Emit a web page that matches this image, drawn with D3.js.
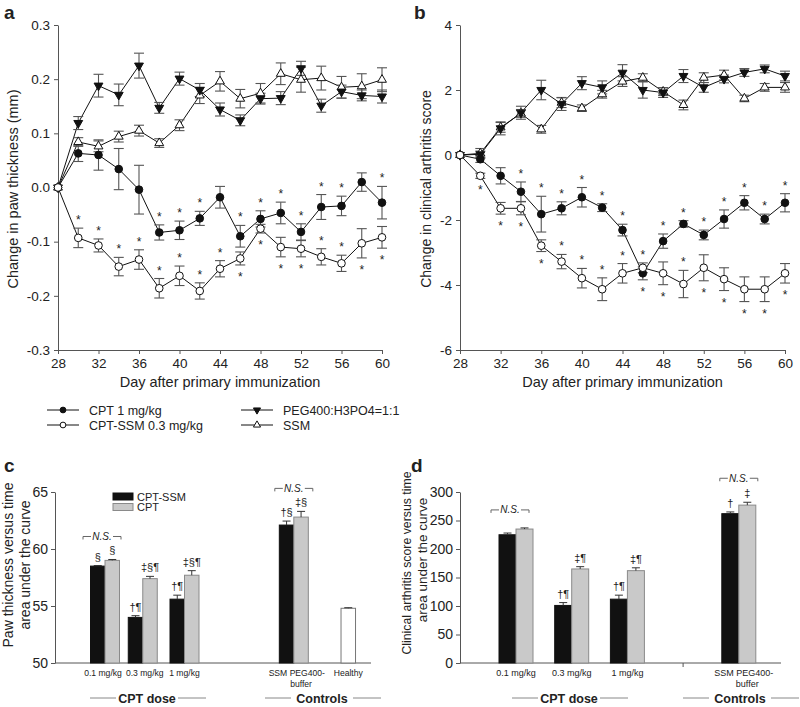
<!DOCTYPE html>
<html><head><meta charset="utf-8">
<script src="https://cdn.jsdelivr.net/npm/d3@7"></script>
<style>
body{margin:0;background:#fff}
text{font-family:"Liberation Sans",Arial,Helvetica,sans-serif;fill:#222}
</style>
</head><body>
<svg id="chart" width="800" height="707"></svg>
<script>
// ---------------- DATA ----------------
const days = [28,30,32,34,36,38,40,42,44,46,48,50,52,54,56,58,60];
const dayTicks = [28,32,36,40,44,48,52,56,60];

// Panel a: change in paw thickness (mm)
const aCPT      = [0,0.063,0.060,0.034,-0.004,-0.083,-0.079,-0.057,-0.018,-0.090,-0.058,-0.047,-0.082,-0.036,-0.034,0.010,-0.028];
const aCPTErr   = [0,0.015,0.028,0.038,0.045,0.014,0.017,0.013,0.020,0.020,0.015,0.020,0.015,0.023,0.018,0.017,0.030];
const aCPTSSM   = [0,-0.093,-0.107,-0.146,-0.133,-0.186,-0.163,-0.191,-0.150,-0.131,-0.076,-0.110,-0.113,-0.128,-0.140,-0.103,-0.092];
const aCPTSSMErr= [0,0.018,0.012,0.017,0.018,0.018,0.018,0.015,0.015,0.012,0.008,0.018,0.015,0.015,0.015,0.027,0.020];
const aPEG      = [0,0.119,0.188,0.171,0.225,0.147,0.201,0.180,0.144,0.124,0.164,0.165,0.220,0.151,0.177,0.170,0.168];
const aPEGErr   = [0,0.012,0.021,0.020,0.023,0.010,0.012,0.012,0.012,0.010,0.010,0.012,0.013,0.012,0.012,0.010,0.012];
const aSSM      = [0,0.084,0.076,0.094,0.105,0.082,0.115,0.170,0.196,0.164,0.174,0.210,0.199,0.202,0.185,0.187,0.199];
const aSSMErr   = [0,0.008,0.010,0.010,0.010,0.008,0.010,0.015,0.018,0.017,0.018,0.020,0.023,0.022,0.020,0.023,0.022];
const aYTicks   = [-0.3,-0.2,-0.1,0,0.1,0.2,0.3];
const aStarsCPTAbove    = [38,40,42,46,48,50,52,54,56,60];
const aStarsCPTBelow    = [];
const aStarsCPTSSMAbove = [30,32,34,36,38,40,42,44,54,56];
const aStarsCPTSSMBelow = [46,48,50,52,58,60];

// Panel b: change in clinical arthritis score
const bCPT      = [0,-0.13,-0.64,-1.13,-1.82,-1.64,-1.30,-1.62,-2.31,-3.64,-2.65,-2.12,-2.46,-1.97,-1.47,-1.97,-1.47];
const bCPTErr   = [0,0.10,0.25,0.30,0.55,0.20,0.30,0.12,0.18,0.20,0.22,0.10,0.15,0.28,0.22,0.15,0.28];
const bCPTSSM   = [0,-0.64,-1.64,-1.64,-2.79,-3.28,-3.79,-4.13,-3.64,-3.47,-3.64,-3.97,-3.47,-3.82,-4.13,-4.13,-3.64];
const bCPTSSMErr= [0,0.08,0.18,0.20,0.18,0.22,0.30,0.35,0.30,0.15,0.35,0.42,0.40,0.35,0.38,0.38,0.30];
const bPEG      = [0,0.02,0.82,1.30,2.00,1.57,2.21,2.08,2.53,2.00,1.92,2.43,2.08,2.34,2.54,2.65,2.43];
const bPEGErr   = [0,0.10,0.20,0.20,0.30,0.20,0.20,0.20,0.25,0.25,0.15,0.20,0.15,0.12,0.12,0.12,0.15];
const bSSM      = [0,0.05,0.85,1.28,0.79,1.61,1.44,1.87,2.26,2.38,1.95,1.54,2.38,2.46,1.74,2.08,2.08];
const bSSMErr   = [0,0.15,0.15,0.12,0.12,0.15,0.10,0.12,0.15,0.12,0.12,0.15,0.15,0.15,0.10,0.12,0.15];
const bYTicks   = [-6,-4,-2,0,2,4];
const bStarsCPTAbove    = [34,36,38,40,42,44,48,50,52,54,56,58,60];
const bStarsCPTBelow    = [46];
const bStarsCPTSSMAbove = [38,40,42,44,46,50];
const bStarsCPTSSMBelow = [30,32,34,36,48,52,54,56,58,60];

// Panels c & d: AUC bars
const barCats   = ["0.1 mg/kg","0.3 mg/kg","1 mg/kg","SSM PEG400-"];
const cCPTSSM   = [58.5,54.0,55.6,62.1];
const cCPTSSMErr= [0.05,0.15,0.35,0.35];
const cCPT      = [59.0,57.4,57.7,62.8];
const cCPTErr   = [0.08,0.20,0.40,0.50];
const cHealthy  = 54.8, cHealthyErr = 0.05;
const cMarkSSM  = ["§","†¶","†¶","†§"];
const cMarkCPT  = ["§","‡§¶","‡§¶","‡§"];
const cYTicks   = [50,55,60,65];
const dCPTSSM   = [225,101,112,262];
const dCPTSSMErr= [3,5,7,3];
const dCPT      = [235,165,162,277];
const dCPTErr   = [2,4,5,5];
const dMarkSSM  = ["","†¶","†¶","†"];
const dMarkCPT  = ["","‡¶","‡¶","‡"];
const dYTicks   = [0,50,100,150,200,250,300];
const nsGroups  = [0,3];

// ---------------- DRAW ----------------
const svg = d3.select("#chart");
const AX = "#555";

function styleAxis(g){
  g.selectAll("path,line").attr("stroke",AX).attr("stroke-width",1);
  g.selectAll("text").attr("fill","#222");
}

function panelLetter(x,y,t){
  svg.append("text").attr("x",x).attr("y",y).attr("font-size",19).attr("font-weight","bold").text(t);
}

function symbolPath(kind,size){
  if(kind==="circle") return d3.symbol(d3.symbolCircle,size)();
  return d3.symbol(d3.symbolTriangle,size)();
}

function linePanel(opt){
  const g = svg.append("g");
  const x = d3.scaleLinear().domain([28,60]).range(opt.xr);
  const y = d3.scaleLinear().domain(opt.yd).range(opt.yr);
  const ax = g.append("g").attr("transform",`translate(0,${opt.yr[0]})`)
    .call(d3.axisBottom(x).tickValues(dayTicks).tickSize(4).tickSizeOuter(0).tickPadding(4));
  ax.selectAll("text").attr("font-size",13.5);
  styleAxis(ax);
  const ay = g.append("g").attr("transform",`translate(${opt.xr[0]},0)`)
    .call(d3.axisLeft(y).tickValues(opt.yt).tickSize(4).tickSizeOuter(0).tickPadding(4).tickFormat(opt.fmt));
  ay.selectAll("text").attr("font-size",13.5);
  styleAxis(ay);
  g.append("text").attr("x",(opt.xr[0]+opt.xr[1])/2).attr("y",opt.yr[0]+37)
    .attr("text-anchor","middle").attr("font-size",14.5).text("Day after primary immunization");
  g.append("text").attr("transform",`translate(${opt.ytx},${opt.yty}) rotate(-90)`)
    .attr("text-anchor","middle").attr("font-size",opt.ytfs).text(opt.ytitle);

  const line = d3.line().x((d,i)=>x(days[i])).y(d=>y(d));
  opt.series.forEach(s=>{
    g.append("path").datum(s.v).attr("d",line).attr("fill","none").attr("stroke","#111").attr("stroke-width",1);
  });
  opt.series.forEach(s=>{
    const eg = g.append("g").attr("stroke","#555").attr("stroke-width",1.1);
    s.v.forEach((v,i)=>{
      const e = s.e[i]; if(!e) return;
      const cx = x(days[i]);
      eg.append("line").attr("x1",cx).attr("x2",cx).attr("y1",y(v-e)).attr("y2",y(v+e));
      [v-e,v+e].forEach(w=>eg.append("line").attr("x1",cx-5).attr("x2",cx+5).attr("y1",y(w)).attr("y2",y(w)));
    });
  });
  opt.series.forEach(s=>{
    s.v.forEach((v,i)=>{
      g.append("path").attr("d",symbolPath(s.shape, s.shape==="circle"?46:34))
        .attr("transform",`translate(${x(days[i])},${y(v)})${s.down?" rotate(180)":""}`)
        .attr("fill",s.fill).attr("stroke","#111").attr("stroke-width",1);
    });
  });
  // significance stars
  opt.stars.forEach(st=>{
    st.days.forEach(dd=>{
      const i = days.indexOf(dd);
      const v = st.s.v[i], e = st.s.e[i];
      const cy = st.above ? y(v+e)-10 : y(v-e)+10;
      g.append("text").attr("x",x(dd)).attr("y",cy+6).attr("text-anchor","middle")
        .attr("font-size",12).attr("fill","#222").text("*");
    });
  });
}

const aS = {
  cpt:{v:aCPT,e:aCPTErr,shape:"circle",fill:"#111"},
  cptssm:{v:aCPTSSM,e:aCPTSSMErr,shape:"circle",fill:"#fff"},
  peg:{v:aPEG,e:aPEGErr,shape:"tri",down:true,fill:"#111"},
  ssm:{v:aSSM,e:aSSMErr,shape:"tri",fill:"#fff"}
};
linePanel({xr:[58,382],yd:[-0.3,0.3],yr:[350,25],yt:aYTicks,fmt:d=>d.toFixed(1),
  ytitle:"Change in paw thickness (mm)",ytx:18,yty:189,ytfs:14.5,
  series:[aS.ssm,aS.peg,aS.cpt,aS.cptssm],
  stars:[{s:aS.cpt,days:aStarsCPTAbove,above:true},{s:aS.cpt,days:aStarsCPTBelow,above:false},
         {s:aS.cptssm,days:aStarsCPTSSMAbove,above:true},{s:aS.cptssm,days:aStarsCPTSSMBelow,above:false}]});

const bS = {
  cpt:{v:bCPT,e:bCPTErr,shape:"circle",fill:"#111"},
  cptssm:{v:bCPTSSM,e:bCPTSSMErr,shape:"circle",fill:"#fff"},
  peg:{v:bPEG,e:bPEGErr,shape:"tri",down:true,fill:"#111"},
  ssm:{v:bSSM,e:bSSMErr,shape:"tri",fill:"#fff"}
};
linePanel({xr:[460,785],yd:[-6,4],yr:[350,25],yt:bYTicks,fmt:d=>String(d),
  ytitle:"Change in clinical arthritis score",ytx:431,yty:189,ytfs:14,
  series:[bS.ssm,bS.peg,bS.cpt,bS.cptssm],
  stars:[{s:bS.cpt,days:bStarsCPTAbove,above:true},{s:bS.cpt,days:bStarsCPTBelow,above:false},
         {s:bS.cptssm,days:bStarsCPTSSMAbove,above:true},{s:bS.cptssm,days:bStarsCPTSSMBelow,above:false}]});

panelLetter(4,19,"a");
panelLetter(414,19,"b");

// legend
const legendItems = [
  {t:"CPT 1 mg/kg",shape:"circle",fill:"#111",x:47,y:410},
  {t:"CPT-SSM 0.3 mg/kg",shape:"circle",fill:"#fff",x:47,y:425},
  {t:"PEG400:H3PO4=1:1",shape:"tri",down:true,fill:"#111",x:241,y:410},
  {t:"SSM",shape:"tri",fill:"#fff",x:241,y:425}
];
legendItems.forEach(l=>{
  svg.append("line").attr("x1",l.x).attr("x2",l.x+32).attr("y1",l.y).attr("y2",l.y).attr("stroke","#111");
  svg.append("path").attr("d",symbolPath(l.shape,l.shape==="circle"?26:22))
    .attr("transform",`translate(${l.x+16},${l.y})${l.down?" rotate(180)":""}`)
    .attr("fill",l.fill).attr("stroke","#111");
  svg.append("text").attr("x",l.x+42).attr("y",l.y+4.5).attr("font-size",12.5).text(l.t);
});

// ---------- bar panels ----------
function barPanel(opt){
  const g = svg.append("g");
  const y = d3.scaleLinear().domain(opt.yd).range([663,492]);
  const x = d3.scaleLinear().domain([0,1]).range([opt.x0,opt.x0+opt.step]);
  const ay = g.append("g").attr("transform",`translate(${opt.axX},0)`)
    .call(d3.axisLeft(y).tickValues(opt.yt).tickSize(4).tickSizeOuter(0).tickPadding(3));
  ay.selectAll("text").attr("font-size",14);
  styleAxis(ay);
  g.append("line").attr("x1",opt.axX).attr("x2",opt.axEnd).attr("y1",663).attr("y2",663).attr("stroke",AX);
  if(opt.midTick!==undefined)
    g.append("line").attr("x1",x(opt.midTick)).attr("x2",x(opt.midTick)).attr("y1",663).attr("y2",667).attr("stroke",AX);
  const bw = opt.bw;
  function bar(cx,v,e,fill,stroke){
    g.append("rect").attr("x",cx).attr("width",bw).attr("y",y(v)).attr("height",663-y(v))
      .attr("fill",fill).attr("stroke",stroke).attr("stroke-width",1);
    const mx = cx+bw/2;
    g.append("line").attr("x1",mx).attr("x2",mx).attr("y1",y(v)).attr("y2",y(v+e)).attr("stroke","#333");
    g.append("line").attr("x1",mx-4).attr("x2",mx+4).attr("y1",y(v+e)).attr("y2",y(v+e)).attr("stroke","#333");
  }
  function mark(cx,top,t){
    if(!t) return;
    g.append("text").attr("x",cx).attr("y",top-5).attr("text-anchor","middle").attr("font-size",11).text(t);
  }
  const fs = opt.catFs;
  opt.ssm.forEach((v,i)=>{
    const c = x(opt.slots[i]);
    bar(c-bw,v,opt.ssmErr[i],"#111","#111");
    bar(c,opt.cpt[i],opt.cptErr[i],"#c9c9c9","#8a8a8a");
    mark(c-bw/2,y(v+opt.ssmErr[i]),opt.markSSM[i]);
    mark(c+bw/2,y(opt.cpt[i]+opt.cptErr[i]),opt.markCPT[i]);
    g.append("text").attr("x",c+opt.lblDx[i]).attr("y",676).attr("text-anchor","middle")
      .attr("font-size",fs).text(barCats[i]);
    if(i===3) g.append("text").attr("x",c+bw/2).attr("y",687).attr("text-anchor","middle").attr("font-size",fs).text("buffer");
  });
  if(opt.healthy!==undefined){
    const c = x(opt.healthySlot);
    bar(c-bw/2,opt.healthy,opt.healthyErr,"#fff","#777");
    g.append("text").attr("x",c).attr("y",676).attr("text-anchor","middle").attr("font-size",fs).text("Healthy");
  }
  // N.S. brackets
  nsGroups.forEach(gi=>{
    const c = x(opt.slots[gi]) + (gi===0?opt.ns0dx:0);
    const top = Math.min(y(opt.ssm[gi]+opt.ssmErr[gi]), y(opt.cpt[gi]+opt.cptErr[gi]));
    const by = top - opt.nsGap[gi];
    const bg = g.append("g").attr("stroke","#666").attr("fill","none");
    bg.append("path").attr("d",`M${c-19},${by+3}V${by}H${c-11}`);
    bg.append("path").attr("d",`M${c+11},${by}H${c+19}V${by+3}`);
    g.append("text").attr("x",c).attr("y",by+3.5).attr("text-anchor","middle").attr("font-size",10)
      .attr("font-style","italic").text("N.S.");
  });
  // group headers
  opt.groups.forEach(gr=>{
    g.append("text").attr("x",gr.cx).attr("y",703).attr("text-anchor","middle").attr("font-size",12.5)
      .attr("font-weight","bold").text(gr.t);
    g.append("line").attr("x1",gr.cx-gr.w/2-30).attr("x2",gr.cx-gr.w/2-4).attr("y1",698).attr("y2",698).attr("stroke","#888");
    g.append("line").attr("x1",gr.cx+gr.w/2+4).attr("x2",gr.cx+gr.w/2+32).attr("y1",698).attr("y2",698).attr("stroke","#888");
  });
  // y title
  opt.ytitle.forEach((t,k)=>{
    g.append("text").attr("transform",`translate(${opt.ytx[k]},${opt.yty[k]}) rotate(-90)`)
      .attr("text-anchor","middle").attr("font-size",opt.ytfs[k]).text(t);
  });
  // legend
  if(opt.legend){
    [["CPT-SSM","#111","#111"],["CPT","#c9c9c9","#8a8a8a"]].forEach((l,k)=>{
      g.append("rect").attr("x",113).attr("y",493+k*10.5).attr("width",20).attr("height",7)
        .attr("fill",l[1]).attr("stroke",l[2]);
      g.append("text").attr("x",137).attr("y",500.5+k*10.5).attr("font-size",11).text(l[0]);
    });
  }
}

barPanel({yd:[50,65],yt:cYTicks,axX:55,axEnd:371,x0:105,step:39.75,slots:[0,0.95,2,4.75],bw:14.5,
  ssm:cCPTSSM,ssmErr:cCPTSSMErr,cpt:cCPT,cptErr:cCPTErr,markSSM:cMarkSSM,markCPT:cMarkCPT,
  healthy:cHealthy,healthyErr:cHealthyErr,healthySlot:6.12,ns0dx:-3,nsGap:{0:23,3:23},
  catFs:8.6,lblDx:[-2,2,0,3],
  groups:[{t:"CPT dose",cx:147,w:54},{t:"Controls",cx:322,w:54}],
  ytitle:["Paw thickness versus time","area under the curve"],ytx:[13,30],ytfs:[14,14],yty:[565,565],legend:true});
barPanel({yd:[0,300],yt:dYTicks,axX:460,axEnd:781,x0:516,step:55.7,slots:[0,1,2,4],bw:17,midTick:3,
  ssm:dCPTSSM,ssmErr:dCPTSSMErr,cpt:dCPT,cptErr:dCPTErr,markSSM:dMarkSSM,markCPT:dMarkCPT,
  ns0dx:-6,nsGap:{0:18,3:24},catFs:9,lblDx:[0,0,0,5],
  groups:[{t:"CPT dose",cx:569,w:54},{t:"Controls",cx:740,w:54}],
  ytitle:["Clinical arthritis score versus time","area under the curve"],ytx:[411,427],ytfs:[12.3,13.5],yty:[563,560]});

panelLetter(4,472,"c");
panelLetter(411,472,"d");
</script>
</body></html>
